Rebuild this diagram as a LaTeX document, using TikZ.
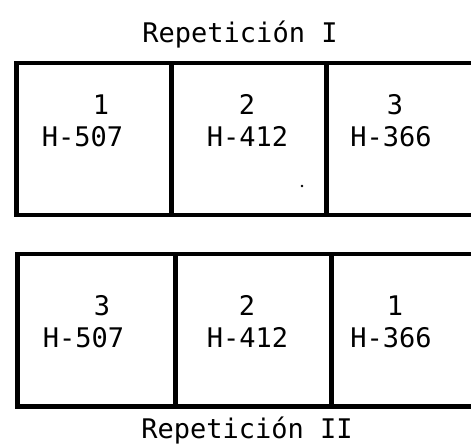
\documentclass[tikz,border=0pt]{standalone}
\usepackage{fontspec}
\setmonofont{DejaVu Sans Mono}
\begin{document}
\begin{tikzpicture}[x=1pt,y=-1pt,
  cellbox/.style={draw, line width=4.5pt, inner sep=0pt, anchor=north west},
  lbl/.style={font=\ttfamily\fontsize{27}{31}\selectfont, inner sep=0pt, anchor=base}]
\useasboundingbox (0,0) rectangle (471,446);
\clip (0,0) rectangle (471,446);
% title
\node[lbl] (t1) at (240,43) {Repetición I};
% top row
\node[cellbox, minimum width=155pt, minimum height=152pt] (a1) at (14,61) {};
\node[cellbox, minimum width=155pt, minimum height=152pt] (a2) at (169,61) {};
\node[cellbox, minimum width=160pt, minimum height=152pt] (a3) at (324,61) {};
\node[lbl] (n11) at (101,115) {1};
\node[lbl] (c11) at (82.5,147) {H-507};
\node[lbl] (n12) at (247,115) {2};
\node[lbl] (c12) at (247.5,147) {H-412};
\node[lbl] (n13) at (395,115) {3};
\node[lbl] (c13) at (391,147) {H-366};
\fill (302,186) circle (1.3pt);
% bottom row
\node[cellbox, minimum width=158pt, minimum height=152pt] (b1) at (15,252) {};
\node[cellbox, minimum width=156pt, minimum height=152pt] (b2) at (173,252) {};
\node[cellbox, minimum width=160pt, minimum height=152pt] (b3) at (329,252) {};
\node[lbl] (n21) at (102,315) {3};
\node[lbl] (c21) at (83.5,347) {H-507};
\node[lbl] (n22) at (247,315) {2};
\node[lbl] (c22) at (247.5,347) {H-412};
\node[lbl] (n23) at (395,315) {1};
\node[lbl] (c23) at (391,347) {H-366};
\node[lbl] (t2) at (247,438) {Repetición II};
\end{tikzpicture}
\end{document}
